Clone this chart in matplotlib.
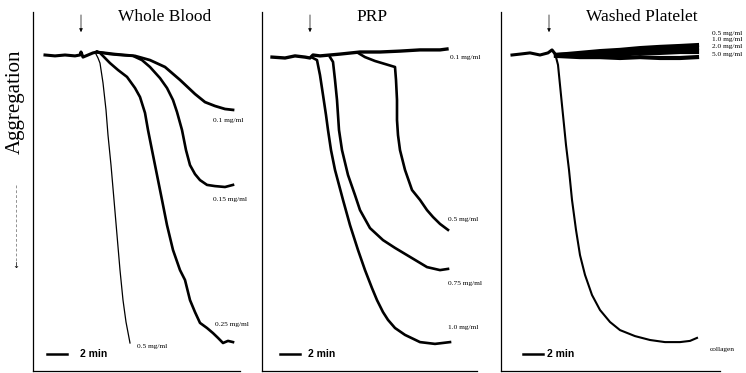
import matplotlib as mpl
mpl.use('Agg')
import matplotlib.pyplot as plt

plt.rcParams['font.family'] = 'Liberation Serif'

# time in min (1 min = 10 px), aggregation in % (downwards)
# ---- Whole Blood ----
wb_base_t = [1.2, 2.2, 3.2, 4.2, 4.7, 4.8, 5.0, 5.5, 6.0, 6.4]
wb_base_a = [0, 0.3, 0, 0.3, 0, -1, 0.7, 0, -0.7, -1]

wb_01_t = [6.4, 7.2, 8.2, 9.2, 10.2, 11.7, 13.2, 14.7, 16.2, 17.2, 18.2, 19.2, 20.0]
wb_01_a = [-1, -0.7, -0.3, 0, 0.3, 1.7, 4, 8.3, 13, 15.7, 17, 18, 18.3]

wb_015_t = [6.4, 7.7, 8.7, 10.0, 10.9, 11.7, 12.7, 13.4, 14.0, 14.4, 14.9, 15.3, 15.7, 16.2, 16.7, 17.4, 18.2, 19.2, 20.0]
wb_015_a = [-1, -0.3, 0, 0.3, 1.7, 4, 7.7, 11, 15, 19, 25, 31.7, 36.7, 39.7, 41.7, 43.3, 43.7, 44, 43.3]

wb_025_t = [6.4, 6.7, 7.2, 7.7, 8.5, 9.4, 10.2, 10.7, 11.2, 11.5, 11.9, 12.4, 12.9, 13.4, 14.0, 14.7, 15.2, 15.7, 16.2, 16.7, 17.4, 18.0, 18.5, 19.0, 19.5, 20.0]
wb_025_a = [-1, -0.7, 1, 2.7, 5, 7.3, 11, 14, 19.3, 25, 31.7, 40, 48.3, 56.7, 65, 71.7, 75, 81.7, 85.7, 89.3, 91, 92.7, 94.3, 96, 95.3, 95.7]

wb_05_t = [6.3, 6.5, 6.7, 7.0, 7.3, 7.5, 7.8, 8.1, 8.4, 8.7, 9.0, 9.3, 9.7]
wb_05_a = [-0.3, 1, 2.7, 9.3, 18.3, 26.7, 36.7, 48.3, 60, 71.7, 81.7, 89, 96]

# ---- PRP ----
prp_01_t = [1.0, 2.3, 3.3, 4.3, 4.8, 5.1, 5.8, 7.8, 9.8, 11.8, 13.8, 15.8, 17.8, 18.5]
prp_01_a = [0.7, 1, 0.3, 0.7, 1, 0, 0.3, -0.3, -1, -1, -1.3, -1.7, -1.7, -2]

prp_10_t = [5.1, 5.5, 5.8, 6.1, 6.4, 6.6, 6.9, 7.3, 8.1, 8.8, 9.6, 10.3, 11.0, 11.5, 12.1, 12.6, 13.3, 14.3, 15.8, 17.3, 18.8]
prp_10_a = [1, 1.7, 6.7, 13.3, 20, 25, 31.7, 38.3, 48.3, 56.7, 65, 71.7, 77.7, 81.7, 85.7, 88.3, 91, 93.3, 95.7, 96.3, 95.7]

prp_075_t = [6.8, 7.1, 7.3, 7.5, 7.6, 7.7, 8.0, 8.6, 9.3, 9.8, 10.8, 12.1, 13.3, 14.8, 16.5, 17.8, 18.6]
prp_075_a = [0.7, 2.3, 8.3, 15, 20, 25, 31.7, 40, 46.7, 51.7, 57.7, 61.7, 64.3, 67.3, 70.7, 71.7, 71.3]

prp_05_t = [9.6, 10.3, 11.3, 12.3, 13.3, 13.4, 13.5, 13.5, 13.6, 13.8, 14.3, 15.0, 15.8, 16.5, 17.1, 17.8, 18.6]
prp_05_a = [-0.7, 0.7, 2, 3, 4, 8.3, 15, 21.7, 26.7, 31.7, 38.3, 45, 48.3, 51.7, 54, 56.3, 58.3]

# ---- Washed Platelet ----
wp_base_t = [1.1, 1.9, 2.9, 3.9, 4.7, 5.1, 5.5]
wp_base_a = [0, -0.3, -0.7, 0, -0.7, -1.7, 0]

wp_flat_t = [5.5, 7.9, 9.9, 11.9, 13.9, 15.9, 17.9, 19.6]
wp_05_a = [0, -0.7, -1.3, -1.7, -2.3, -2.7, -3, -3.3]
wp_10_a = [0, -0.3, -1, -1, -1.7, -1.7, -2, -2.3]
wp_20_a = [0, 0, -0.3, 0, -0.7, -0.7, -1, -1]
wp_50_a = [0.3, 0.7, 0.7, 1, 0.7, 1, 1, 0.7]

wp_col_t = [5.5, 5.7, 5.9, 6.1, 6.3, 6.5, 6.8, 7.1, 7.5, 7.9, 8.4, 9.1, 9.9, 10.9, 11.9, 13.4, 14.9, 16.4, 17.9, 18.9, 19.6]
wp_col_a = [0.7, 3.3, 10, 16.7, 23.3, 30, 38.3, 48.3, 58.3, 66.7, 73.3, 80, 85, 89, 91.7, 93.7, 95, 95.7, 95.7, 95.3, 94.3]

titles = ["Whole Blood", "PRP", "Washed Platelet"]

W, H = 746, 373
fig = plt.figure(figsize=(W / 100, H / 100), dpi=100)

boxes = [(33, 240), (262, 477), (501, 720)]
top_px, bot_px = 12, 371
axes = []
for left, right in boxes:
    ax = fig.add_axes([left / W, 1 - bot_px / H, (right - left) / W, (bot_px - top_px) / H])
    ax.set_xlim(0, (right - left) / 10)
    ax.set_ylim((bot_px - 55) / 3, (top_px - 55) / 3)
    for s in ['top', 'right']:
        ax.spines[s].set_visible(False)
    for s in ['left', 'bottom']:
        ax.spines[s].set_linewidth(0.9)
    ax.set_xticks([])
    ax.set_yticks([])
    ax.patch.set_alpha(0)
    axes.append(ax)

ax1, ax2, ax3 = axes
k = 'black'
fs = 5.3

# whole blood
ax1.plot(wb_base_t, wb_base_a, color=k, lw=2.2)
ax1.plot(wb_01_t, wb_01_a, color=k, lw=2.0)
ax1.plot(wb_015_t, wb_015_a, color=k, lw=1.9)
ax1.plot(wb_025_t, wb_025_a, color=k, lw=1.9)
ax1.plot(wb_05_t, wb_05_a, color=k, lw=0.9)
ax1.text(18.0, 21.7, "0.1 mg/ml", fontsize=fs, va='center')
ax1.text(18.0, 48, "0.15 mg/ml", fontsize=fs, va='center')
ax1.text(18.2, 89.7, "0.25 mg/ml", fontsize=fs, va='center')
ax1.text(10.4, 97.3, "0.5 mg/ml", fontsize=fs, va='center')

# PRP
ax2.plot(prp_01_t, prp_01_a, color=k, lw=2.4)
ax2.plot(prp_10_t, prp_10_a, color=k, lw=1.9)
ax2.plot(prp_075_t, prp_075_a, color=k, lw=1.9)
ax2.plot(prp_05_t, prp_05_a, color=k, lw=1.9)
ax2.text(18.8, 0.7, "0.1 mg/ml", fontsize=fs, va='center')
ax2.text(18.6, 54.7, "0.5 mg/ml", fontsize=fs, va='center')
ax2.text(18.6, 76, "0.75 mg/ml", fontsize=fs, va='center')
ax2.text(18.6, 90.7, "1.0 mg/ml", fontsize=fs, va='center')

# washed platelet
ax3.plot(wp_base_t, wp_base_a, color=k, lw=2.2)
for a in [wp_05_a, wp_10_a, wp_20_a, wp_50_a]:
    ax3.plot(wp_flat_t, a, color=k, lw=3.0)
ax3.plot(wp_col_t, wp_col_a, color=k, lw=1.5)
for lab, a in zip(["0.5 mg/ml", "1.0 mg/ml", "2.0 mg/ml", "5.0 mg/ml"], [-7.3, -5, -2.7, -0.3]):
    ax3.text(21.1, a, lab, fontsize=fs, va='center', clip_on=False)
ax3.text(20.9, 98.3, "collagen", fontsize=fs, va='center', clip_on=False)

# injection arrows, scale bars
bar_starts = [(1.4, 4.7), (1.8, 4.6), (2.2, 4.6)]
for ax, (b0, tx) in zip(axes, bar_starts):
    ax.annotate("", xy=(4.8, -6.7), xytext=(4.8, -14.3), annotation_clip=False,
                arrowprops=dict(arrowstyle='-|>', color=k, lw=0.5, mutation_scale=5))
    ax.plot([b0, b0 + 2], [99.7, 99.7], color=k, lw=1.8)
    ax.text(tx, 99.7, "2 min", fontsize=7.5, family='Liberation Sans', weight='bold', va='center')

title_x = [165, 372, 642]
for t, x in zip(titles, title_x):
    fig.text(x / W, 1 - 17 / H, t, fontsize=12.5, ha='center', va='center')

fig.text(15 / W, 1 - 102 / H, "Aggregation", fontsize=15, rotation=90, ha='center', va='center')
fig.add_artist(plt.Line2D([16 / W, 16 / W], [1 - 185 / H, 1 - 262 / H], color='0.4', lw=0.5, ls=(0, (4, 3))))
fig.text(16 / W, 1 - 265 / H, "\u2193", fontsize=6, ha='center', va='center', family='DejaVu Sans')

fig.savefig("out.png", dpi=100)
